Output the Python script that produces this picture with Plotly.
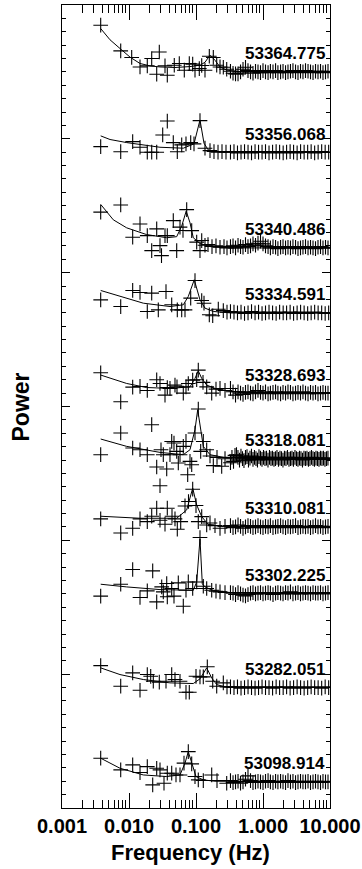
import plotly.graph_objects as go

# ---------------- data ----------------
LABELS = ["53364.775", "53356.068", "53340.486", "53334.591", "53328.693",
          "53318.081", "53310.081", "53302.225", "53282.051", "53098.914"]
OFFSETS = [55.0, 49.0, 41.85, 37.0, 31.0, 26.1, 21.0, 16.05, 9.0, 1.95]

X_TICKS = [0.001, 0.01, 0.1, 1, 10]
X_TICKTEXT = ["0.001", "0.010", "0.100", "1.000", "10.000"]

# high-frequency frequency grids (Hz)
HF_SPARSE = [0.327, 0.369, 0.416, 0.470, 0.530, 0.598, 0.674, 0.761, 0.858, 0.968,
             1.09, 1.23, 1.39, 1.57, 1.77, 2.00, 2.25, 2.54, 2.86, 3.23,
             3.64, 4.11, 4.64, 5.23, 5.90, 6.65, 7.51, 8.47, 9.55]
HF_MED = [0.327, 0.357, 0.389, 0.424, 0.462, 0.503, 0.548, 0.597, 0.651, 0.709,
          0.773, 0.842, 0.918, 1.00, 1.09, 1.19, 1.29, 1.41, 1.54, 1.67,
          1.83, 1.99, 2.17, 2.36, 2.57, 2.80, 3.06, 3.33, 3.63, 3.95,
          4.31, 4.70, 5.12, 5.58, 6.08, 6.62, 7.22, 7.86, 8.57, 9.34]
HF_DENSE = [0.327, 0.344, 0.363, 0.382, 0.402, 0.423, 0.446, 0.469, 0.494, 0.520,
            0.548, 0.577, 0.607, 0.639, 0.673, 0.709, 0.746, 0.786, 0.827, 0.871,
            0.917, 0.966, 1.017, 1.070, 1.127, 1.187, 1.249, 1.315, 1.385, 1.458,
            1.535, 1.616, 1.702, 1.792, 1.887, 1.986, 2.091, 2.202, 2.319, 2.441,
            2.570, 2.706, 2.849, 3.000, 3.159, 3.326, 3.502, 3.687, 3.882, 4.087,
            4.304, 4.531, 4.771, 5.023, 5.289, 5.569, 5.863, 6.173, 6.500, 6.844,
            7.206, 7.587, 7.988, 8.411, 8.856, 9.324]

# spectrum 1 : 53364.775
F1 = [0.00378, 0.00752, 0.01097, 0.0146, 0.01875, 0.02182, 0.02591, 0.02833, 0.03446, 0.03729,
      0.04741, 0.05632, 0.06689, 0.07943, 0.08926, 0.09663, 0.1120, 0.1217, 0.1362, 0.1580,
      0.1813, 0.2037, 0.2282, 0.2556, 0.2872]
P1 = [3.49, 1.57, 1.08, 0.37, 0.45, 1.0, -0.17, 1.49, 0.45, -0.25,
      0.5, 0.63, 0.13, 0.63, 0.58, 0.13, 0.25, 0.48, 0.13, 1.17,
      1.08, 0.5, 0.37, 0.35, 0.2]
H1 = [0.05, -0.1, -0.15, -0.15, 0.0, 0.2, 0.35, 0.1, 0.0, -0.1,
      0.05, 0.0, -0.05, 0.1, 0.0, -0.05, 0.05, 0.0, 0.1, -0.05,
      0.0, 0.05, -0.05, 0.0, 0.05, 0.1, 0.0, -0.05, 0.05, 0.0,
      0.1, 0.05, 0.0, -0.05, 0.05, 0.0, 0.05, -0.05, 0.0, 0.05]
FIT1_F = [0.00378, 0.00521, 0.00734, 0.0104, 0.0146, 0.0206, 0.029, 0.0486, 0.0814, 0.1147,
          0.1362, 0.1618, 0.1921, 0.2282, 0.2902, 0.4538, 10]
FIT1_P = [3.24, 2.4, 1.75, 1.1, 0.63, 0.45, 0.37, 0.33, 0.4, 0.5,
          0.72, 1.25, 0.87, 0.37, 0.13, 0.02, 0.0]

# spectrum 2 : 53356.068
F2 = [0.00378, 0.00752, 0.01135, 0.0146, 0.01875, 0.02182, 0.02591, 0.03184, 0.03729, 0.04581,
      0.05259, 0.06117, 0.0709, 0.08335, 0.09335, 0.1147, 0.1362, 0.1618, 0.1856, 0.2131,
      0.2444, 0.2804]
P2 = [0.42, 0.04, 0.79, 0.37, 0.0, 0.0, 0.0, 1.29, 2.33, 0.72,
      0.04, 0.55, 0.62, 0.72, 0.62, 2.36, 0.3, 0.12, 0.05, 0.0,
      0.05, 0.0]
H2 = [0.0, 0.05, -0.05, 0.0, 0.05, 0.0, -0.05, 0.05, 0.0, 0.0,
      0.05, -0.05, 0.0, 0.05, 0.0, -0.05, 0.0, 0.05, 0.0, -0.05,
      0.05, 0.0, 0.0, 0.05, -0.05, 0.0, 0.05, 0.0, 0.0]
FIT2_F = [0.00378, 0.00521, 0.00924, 0.029, 0.0646, 0.0933, 0.1147, 0.1317, 0.1526, 0.1921, 10]
FIT2_P = [1.22, 0.95, 0.72, 0.37, 0.3, 0.62, 2.41, 0.67, 0.17, 0.05, 0.0]

# spectrum 3 : 53340.486
F3 = [0.00378, 0.00752, 0.01135, 0.0146, 0.01875, 0.02182, 0.02591, 0.02902, 0.03055, 0.03446,
      0.03729, 0.04581, 0.05151, 0.0577, 0.06397, 0.07263, 0.08625, 0.1024, 0.1147, 0.1217,
      0.1362, 0.1511, 0.1733, 0.1988, 0.2282, 0.2618, 0.2902]
P3 = [2.67, 3.21, 0.8, 1.79, 0.92, -0.2, 1.42, 0.17, -0.58, 0.92,
      0.92, 2.04, -0.2, 1.55, 1.3, 2.86, 1.29, 0.43, -0.2, 0.55,
      0.2, 0.25, 0.1, 0.15, 0.05, 0.1, 0.0]
H3 = [0.1, 0.15, 0.0, 0.2, 0.1, 0.05, 0.25, 0.1, 0.15, 0.3,
      0.2, 0.35, 0.5, 0.3, 0.15, 0.1, 0.0, 0.1, 0.05, -0.05,
      0.05, 0.1, 0.0, 0.05, 0.0, 0.1, 0.05, -0.05, 0.0, 0.05,
      0.1, 0.0, 0.05, 0.0, -0.05, 0.05, 0.1, 0.0, 0.05, 0.0]
FIT3_F = [0.00378, 0.00583, 0.00924, 0.0182, 0.03654, 0.05151, 0.06117, 0.0714, 0.0814, 0.0911,
          0.1147, 0.1618, 0.3218, 10]
FIT3_P = [3.25, 2.1, 1.5, 1.0, 0.76, 0.84, 1.63, 2.75, 1.88, 0.76,
          0.33, 0.1, 0.0, 0.0]

# spectrum 4 : 53334.591
F4 = [0.00378, 0.00752, 0.01135, 0.0146, 0.01875, 0.02182, 0.02737, 0.03566, 0.04338, 0.05259,
      0.06117, 0.06851, 0.08335, 0.09663, 0.1217, 0.1317, 0.1580, 0.1776, 0.2152, 0.2556,
      0.2902]
P4 = [0.97, 0.47, 1.67, 1.52, 0.1, 1.47, 0.22, 1.59, 0.6, 0.22,
      0.22, 0.22, 1.1, 2.41, 0.92, 0.72, -0.15, -0.22, 0.27, 0.17,
      0.05]
H4 = [0.1, 0.05, 0.0, 0.05, -0.05, 0.0, 0.1, 0.0, 0.05, -0.05,
      0.0, 0.05, 0.0, -0.05, 0.05, 0.0, 0.0, 0.05, -0.05, 0.0,
      0.05, 0.0, -0.05, 0.0, 0.05, 0.0, 0.0, -0.05, 0.0]
FIT4_F = [0.00378, 0.00734, 0.01635, 0.0409, 0.0646, 0.0767, 0.0942, 0.1147, 0.1362, 0.1813, 0.3218, 10]
FIT4_P = [1.67, 1.22, 0.72, 0.47, 0.6, 1.22, 2.47, 0.97, 0.35, 0.1, 0.0, 0.0]

# spectrum 5 : 53328.693
F5 = [0.00378, 0.00752, 0.01135, 0.0146, 0.01875, 0.02591, 0.02902, 0.03446, 0.03729, 0.04091,
      0.04858, 0.05205, 0.06462, 0.0709, 0.07674, 0.08926, 0.1024, 0.1082, 0.1272, 0.1444,
      0.1715, 0.1988, 0.2282, 0.2710]
P5 = [1.52, -0.65, 0.45, 0.5, 0.2, 1.0, 0.72, -0.15, 0.42, 0.35,
      0.6, 0.47, 0.0, 0.47, 0.72, 0.97, 1.0, 1.72, 0.8, 0.47,
      0.0, 0.3, 0.35, 0.2]
H5 = [0.35, 0.1, -0.15, 0.1, 0.0, -0.1, 0.05, 0.1, 0.0, -0.05,
      0.1, 0.2, 0.05, 0.0, 0.1, -0.05, 0.0, 0.05, 0.1, 0.0,
      -0.05, 0.05, 0.0, 0.1, 0.05, -0.05, 0.0, 0.05, 0.0, 0.1,
      0.0, -0.05, 0.05, 0.0, 0.05, -0.05, 0.0, 0.05, 0.0, 0.0]
FIT5_F = [0.00378, 0.00924, 0.0182, 0.0409, 0.0814, 0.0966, 0.1082, 0.1217, 0.1444, 0.2037,
          0.382, 0.902, 10]
FIT5_P = [1.35, 0.72, 0.42, 0.35, 0.47, 1.1, 1.67, 1.1, 0.6, 0.3,
          0.1, 0.02, 0.0]

# spectrum 6 : 53318.081
F6 = [0.00378, 0.00752, 0.01135, 0.0146, 0.01875, 0.02182, 0.02591, 0.02902, 0.03003, 0.0325,
      0.03654, 0.04091, 0.04338, 0.04693, 0.05151, 0.05443, 0.0577, 0.06462, 0.0709, 0.07517,
      0.08136, 0.08625, 0.09663, 0.1082, 0.1175, 0.1285, 0.1444, 0.1618, 0.1813, 0.2058,
      0.2418, 0.2710]
P6 = [0.3, 1.92, 0.8, 0.67, 0.3, 2.54, -0.62, -2.02, 0.67, 0.3,
      -0.77, 0.3, 1.29, 1.17, 0.55, -0.32, 0.3, 0.92, 1.29, -1.2,
      -0.2, -0.45, 1.92, 3.71, 0.55, 1.29, 0.67, 0.2, -0.52, 0.1,
      -0.57, 0.0]
H6 = [-0.3, 0.1, -0.2, 0.25, 0.3, 0.1, -0.1, 0.2, 0.0, -0.15,
      0.1, 0.15, -0.1, 0.05, 0.2, -0.05, 0.1, 0.0, -0.1, 0.15,
      0.05, -0.05, 0.1, 0.0, 0.05, -0.1, 0.1, 0.0, 0.05, -0.05,
      0.0, 0.1, -0.05, 0.05, 0.0, -0.1, 0.05, 0.0, 0.1, -0.05,
      0.0, 0.05, -0.05, 0.1, 0.0, -0.05, 0.05, 0.0, -0.1, 0.05,
      0.0, 0.05, -0.05, 0.0, 0.1, 0.0, -0.05, 0.05, 0.0, -0.05,
      0.05, 0.0, 0.05, -0.05, 0.0, 0.05]
FIT6_F = [0.00378, 0.00924, 0.029, 0.0646, 0.0814, 0.0966, 0.106, 0.1147, 0.1285, 0.1618, 0.2872, 10]
FIT6_P = [1.47, 0.92, 0.47, 0.3, 0.67, 2.17, 3.66, 2.42, 0.92, 0.3, 0.05, 0.0]

# spectrum 7 : 53310.081
F7 = [0.00378, 0.00752, 0.01135, 0.0146, 0.01875, 0.02182, 0.02591, 0.02902, 0.03446, 0.03729,
      0.04383, 0.04858, 0.05259, 0.0591, 0.06851, 0.07728, 0.08926, 0.1, 0.1082, 0.1217,
      0.1444, 0.1618, 0.1921, 0.2282, 0.2710]
P7 = [0.6, -0.45, -0.1, 0.6, 0.4, 0.8, 1.4, 0.5, 0.2, 1.4,
      0.8, 0.6, -0.17, 0.4, 1.57, 1.9, 2.82, 1.6, 0.4, 0.77,
      0.15, 0.3, 0.1, -0.1, 0.05]
H7 = [0.1, -0.05, 0.0, 0.15, 0.05, -0.1, 0.0, 0.1, 0.05, -0.05,
      0.0, 0.1, 0.0, -0.05, 0.05, 0.0, 0.1, -0.05, 0.0, 0.05,
      0.1, 0.0, -0.05, 0.05, 0.0, 0.05, 0.1, -0.05, 0.0, 0.05,
      0.0, 0.05, -0.05, 0.0, 0.1, 0.0, 0.05, -0.05, 0.0, 0.05]
FIT7_F = [0.00378, 0.0146, 0.0515, 0.0726, 0.0893, 0.1024, 0.1217, 0.1511, 0.2282, 10]
FIT7_P = [0.8, 0.65, 0.65, 1.27, 2.9, 1.64, 0.77, 0.2, 0.05, 0.0]

# spectrum 8 : 53302.225
F8 = [0.00378, 0.00752, 0.01135, 0.0146, 0.01875, 0.02258, 0.02591, 0.03076, 0.0325, 0.03654,
      0.03729, 0.04338, 0.04693, 0.05443, 0.06462, 0.0709, 0.07674, 0.08926, 0.1024, 0.1147,
      0.1285, 0.1444, 0.1715, 0.1988, 0.2282, 0.2710]
P8 = [-0.22, 0.67, 1.77, -0.32, 0.17, 1.67, -0.65, 0.47, 0.1, 0.72,
      -0.27, 0.35, -0.22, 0.77, -0.97, 0.22, 0.84, 0.35, 0.84, 4.16,
      0.52, 0.35, 0.22, 0.15, 0.1, 0.05]
H8 = [0.05, 0.0, -0.1, 0.05, -0.05, -0.15, -0.2, -0.1, 0.0, 0.05,
      -0.05, 0.0, 0.05, -0.05, 0.0, 0.05, 0.0, -0.1, 0.0, 0.05,
      0.0, -0.05, 0.05, 0.0, 0.1, -0.05, 0.0, 0.05, -0.05, 0.0,
      0.05, 0.0, -0.05, 0.05, 0.0, 0.0, 0.05, -0.05, 0.0, 0.05]
FIT8_F = [0.00378, 0.00924, 0.029, 0.0911, 0.1024, 0.1147, 0.1242, 0.1362, 0.1813, 0.3218, 10]
FIT8_P = [0.67, 0.47, 0.27, 0.22, 0.84, 4.06, 0.7, 0.47, 0.2, 0.05, 0.0]

# spectrum 9 : 53282.051
F9 = [0.00378, 0.00752, 0.01135, 0.0146, 0.01875, 0.02108, 0.02305, 0.02833, 0.03566, 0.04338,
      0.04858, 0.0577, 0.0709, 0.07943, 0.1, 0.1147, 0.1285, 0.1475, 0.1776, 0.2037,
      0.2556, 0.2902]
P9 = [1.64, 0.1, 1.1, -0.2, 0.97, 0.84, 0.47, 0.4, 0.47, 0.97,
      0.6, 0.47, -0.35, -0.35, 0.84, 0.8, 0.8, 1.55, 0.47, 0.1,
      0.35, 0.05]
H9 = [0.05, 0.0, 0.05, -0.05, 0.0, 0.05, 0.0, -0.05, 0.0, 0.05,
      0.0, 0.0, -0.05, 0.05, 0.0, 0.0, 0.05, -0.05, 0.0, 0.05,
      0.0, -0.05, 0.0, 0.05, 0.0, 0.0, -0.05, 0.05, 0.0]
FIT9_F = [0.00378, 0.00734, 0.01635, 0.0409, 0.0911, 0.1147, 0.1444, 0.1715, 0.2037, 0.271, 10]
FIT9_P = [1.47, 0.97, 0.6, 0.35, 0.3, 0.65, 1.47, 0.72, 0.22, 0.05, 0.0]

# spectrum 10 : 53098.914
F10 = [0.00378, 0.00752, 0.01135, 0.0146, 0.01875, 0.02258, 0.02591, 0.02902, 0.0333, 0.03729,
       0.04338, 0.05029, 0.0577, 0.0662, 0.07674, 0.08625, 0.09663, 0.1082, 0.1285, 0.1715,
       0.2058, 0.2872]
P10 = [1.77, 0.9, 1.27, 0.7, 1.14, -0.22, 1.02, 0.9, -0.1, 0.65,
       0.65, 0.52, 0.52, 1.4, 2.26, 1.35, 0.4, 0.15, 0.1, 0.52,
       0.1, -0.1]
H10 = [0.1, -0.05, 0.0, 0.05, -0.1, 0.0, 0.2, 0.45, 0.1, -0.05,
       0.0, 0.05, 0.0, -0.05, 0.05, 0.1, 0.0, -0.05, 0.05, 0.0,
       0.05, 0.0, -0.05, 0.1, 0.0, 0.05, -0.05, 0.0, 0.05, 0.0,
       0.0, 0.05, -0.05, 0.0, 0.05, 0.0, -0.05, 0.05, 0.0, 0.0]
FIT10_F = [0.00378, 0.00734, 0.01635, 0.03654, 0.0577, 0.0685, 0.0767, 0.0863, 0.1, 0.1285, 0.1921, 10]
FIT10_P = [1.77, 1.02, 0.52, 0.4, 0.52, 1.4, 2.26, 1.4, 0.4, 0.15, 0.05, 0.0]

SPECTRA = [
    (F1, P1, HF_MED, H1, FIT1_F, FIT1_P),
    (F2, P2, HF_SPARSE, H2, FIT2_F, FIT2_P),
    (F3, P3, HF_MED, H3, FIT3_F, FIT3_P),
    (F4, P4, HF_SPARSE, H4, FIT4_F, FIT4_P),
    (F5, P5, HF_MED, H5, FIT5_F, FIT5_P),
    (F6, P6, HF_DENSE, H6, FIT6_F, FIT6_P),
    (F7, P7, HF_MED, H7, FIT7_F, FIT7_P),
    (F8, P8, HF_MED, H8, FIT8_F, FIT8_P),
    (F9, P9, HF_SPARSE, H9, FIT9_F, FIT9_P),
    (F10, P10, HF_MED, H10, FIT10_F, FIT10_P),
]

FONT = "Liberation Sans, Arial, Helvetica"

# ---------------- figure ----------------
fig = go.Figure()
for i, (fl, pl, hg, hp, ff, fp) in enumerate(SPECTRA):
    assert len(fl) == len(pl), i
    assert len(hg) == len(hp), i
    assert len(ff) == len(fp), i
    off = OFFSETS[i]
    fig.add_trace(go.Scatter(
        x=ff, y=[off + v for v in fp], mode="lines",
        line=dict(color="black", width=1), hoverinfo="skip", showlegend=False))
    fig.add_trace(go.Scatter(
        x=fl + hg, y=[off + v for v in pl + hp], mode="markers",
        marker=dict(symbol="cross-thin", size=10.5, line=dict(color="black", width=1.1)),
        showlegend=False))
    fig.add_annotation(
        xref="paper", yref="y", x=0.988, y=off + 1.35, text=LABELS[i],
        showarrow=False, xanchor="right", yanchor="middle",
        font=dict(family=FONT, size=17, color="black", weight="bold"))

# invisible trace to anchor the mirrored (top / right) tick axes
fig.add_trace(go.Scatter(x=[0.01], y=[1], xaxis="x2", yaxis="y2", mode="markers",
                         marker=dict(opacity=0), hoverinfo="skip", showlegend=False))

minor_x = [m * 10.0 ** e for e in (-3, -2, -1, 0) for m in range(2, 10)]

xcommon = dict(
    type="log", range=[-3, 1], tickvals=X_TICKS,
    ticks="inside", ticklen=15, tickwidth=1, tickcolor="black",
    showline=True, linecolor="black", linewidth=1,
    showgrid=False, zeroline=False, automargin=False,
    minor=dict(tickvals=minor_x, ticks="inside", ticklen=8, tickwidth=1,
               tickcolor="black", showgrid=False),
)
ycommon = dict(
    range=[0, 60], tick0=0, dtick=10,
    ticks="inside", ticklen=8, tickwidth=1, tickcolor="black",
    showline=True, linecolor="black", linewidth=1,
    showgrid=False, zeroline=False, showticklabels=False, automargin=False,
    minor=dict(dtick=1, tick0=0, ticks="inside", ticklen=4, tickwidth=1,
               tickcolor="black", showgrid=False),
)

fig.update_layout(
    xaxis=dict(**xcommon, ticktext=X_TICKTEXT, tickangle=0, ticklabeloverflow="allow",
               tickfont=dict(family=FONT, size=20, color="black", weight="bold")),
    xaxis2=dict(**xcommon, overlaying="x", side="top", anchor="y", showticklabels=False),
    yaxis=dict(**ycommon),
    yaxis2=dict(**ycommon, overlaying="y", side="right", anchor="x"),
)

fig.add_annotation(xref="paper", yref="paper", x=0.478, y=-0.0555, text="Frequency (Hz)",
                   showarrow=False, xanchor="center", yanchor="middle",
                   font=dict(family=FONT, size=22, color="black", weight="bold"))
fig.add_annotation(xref="paper", yref="paper", x=-0.153, y=0.5, text="Power", textangle=-90,
                   showarrow=False, xanchor="center", yanchor="middle",
                   font=dict(family=FONT, size=23, color="black", weight="bold"))

fig.update_layout(
    width=362, height=869,
    margin=dict(l=62, r=32, t=5, b=61),
    paper_bgcolor="white", plot_bgcolor="white",
    showlegend=False,
)

fig.write_html("out.html")
